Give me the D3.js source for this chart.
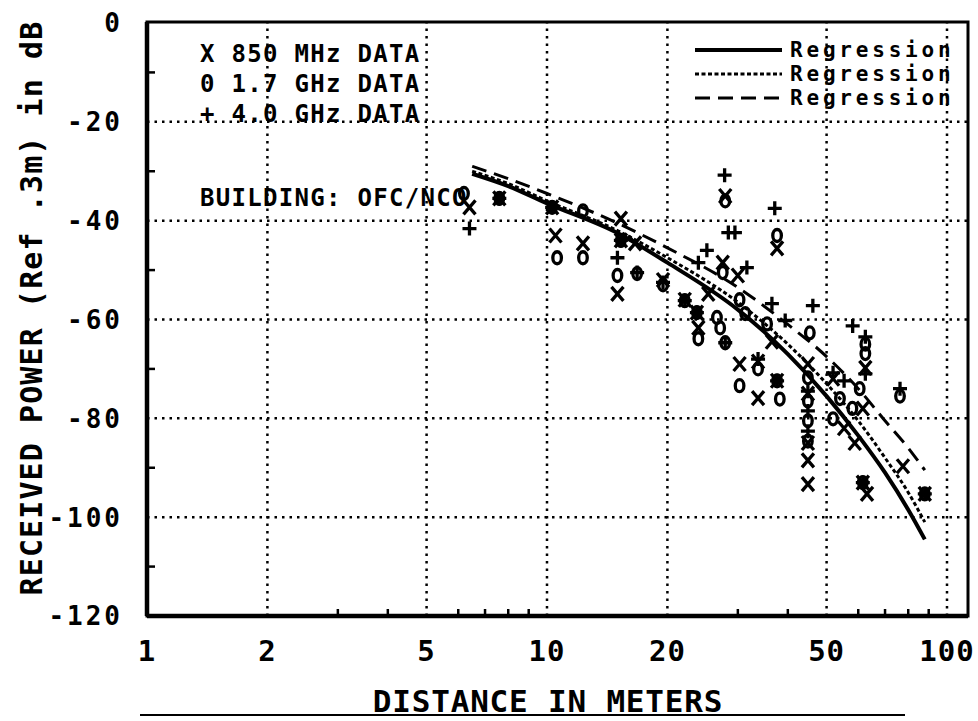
<!DOCTYPE html>
<html>
<head>
<meta charset="utf-8">
<script src="https://cdn.jsdelivr.net/npm/d3@7"></script>
<style>
    body { margin: 0; background: #fff; }
    text { font-family: "DejaVu Sans Mono", monospace; font-weight: bold; fill: #000; }
</style>
</head>
<body>
<svg id="chart"></svg>
<script>
// axis ticks
const xTicks = [1, 2, 5, 10, 20, 50, 100];
const xGrid = [2, 5, 10, 20, 50, 100];
const xMinorTicks = [3, 4, 6, 7, 8, 9, 30, 40, 60, 70, 80, 90];
const yTicks = [0, -20, -40, -60, -80, -100, -120];
const yGrid = [-20, -40, -60, -80, -100];
const yMinorTicks = [-10, -30, -50, -70, -90, -110];

// 850 MHz data (X)
const dist850 = [6.4, 7.6, 10.3, 10.5, 12.3, 15.3, 15.3, 15.0, 16.6, 19.5, 22.1, 23.7, 23.9, 25.3, 27.9, 27.5, 30.0,
    30.3, 33.7, 33.7, 36.5, 37.6, 37.6, 44.9, 44.9, 44.9, 44.9, 44.9, 51.9, 55.3, 58.8, 61.6, 62.5, 61.6, 63.1, 77.6, 88.0];
const pow850 = [-37.3, -35.5, -37.3, -43, -44.6, -39.6, -44, -54.8, -44.6, -52, -56, -58.6, -61.7, -54.8, -35, -48.5, -51.1,
    -69, -68.5, -75.9, -64.5, -45.6, -72.4, -69, -75, -85, -88.5, -93.3, -72, -82, -85, -78, -69.8, -93, -95.3, -89.7, -95.3];

// 1.7 GHz data (O)
const dist17 = [6.2, 7.6, 10.3, 10.6, 12.3, 12.3, 15.0, 15.3, 16.8, 19.5, 22.1, 23.7, 23.9, 27.9, 26.6, 27.1, 27.9, 27.5,
    30.3, 30.3, 31.3, 33.7, 35.5, 37.6, 38.2, 37.6, 45.4, 44.9, 44.9, 44.9, 44.9, 51.9, 54.0, 58.0, 60.5, 62.5, 62.5, 61.6, 76.3, 88.0];
const pow17 = [-34.5, -35.5, -37.3, -47.5, -38, -47.5, -51.1, -44, -50.7, -53, -56.2, -58.6, -63.9, -36, -59.6, -61.7, -64.7, -50.5,
    -73.4, -56, -58.8, -70, -60.9, -43, -76.1, -72.4, -62.7, -71.8, -76.5, -80.5, -84.6, -80.1, -76, -78, -74, -65, -66.9, -93, -75.5, -95.3];

// 4.0 GHz data (+)
const dist40 = [6.4, 7.6, 10.3, 15.0, 15.3, 16.8, 19.5, 22.1, 23.7, 25.1, 23.9, 27.8, 28.4, 29.5, 31.6, 27.9, 36.5, 37.1,
    37.6, 33.7, 39.4, 46.2, 44.9, 44.9, 44.9, 51.9, 55.3, 58.1, 62.5, 62.5, 61.6, 76.3, 88.0];
const pow40 = [-41.6, -35.5, -37.3, -47.5, -44, -50.5, -52.5, -56.2, -58.6, -46, -48.5, -30.8, -42.4, -42.4, -49.5, -64.7, -56.8, -37.5,
    -72.4, -68, -60.2, -57.2, -74.5, -78.5, -82.6, -70.8, -72.4, -61.3, -63.5, -71, -93, -74, -95.3];

// regression curves
const regDist = [6.5, 8, 10, 15, 20, 30, 40, 50, 60, 70, 80, 88];
const regSolid = [-30.5, -33, -36.5, -42.5, -48.5, -58, -67, -75.5, -83.5, -91, -98.5, -104.5];
const regDotted = [-30, -32.5, -36, -42, -47.5, -56.5, -65, -73, -80.5, -88, -95, -101];
const regDashed = [-29, -31.5, -34.5, -40.5, -45.5, -53.5, -61, -67.5, -74, -80.5, -86, -90.5];

// create canvas
const canvWidth = 978;
const canvHeight = 721;
const frameRight = 968;

const svg = d3.select("#chart")
    .attr("width", canvWidth)
    .attr("height", canvHeight);

// scales
const x = d3.scaleLog().domain([1, 100]).range([147, 947]);
const y = d3.scaleLinear().domain([0, -120]).range([23, 616]);

// dotted grid
svg.selectAll(".vgrid")
    .data(xGrid)
    .enter().append("line")
    .attr("x1", d => x(d)).attr("x2", d => x(d))
    .attr("y1", y(-120)).attr("y2", y(0))
    .attr("stroke", "#000").attr("stroke-width", 2.5)
    .attr("stroke-dasharray", "2.5,5");

svg.selectAll(".hgrid")
    .data(yGrid)
    .enter().append("line")
    .attr("x1", x(1)).attr("x2", frameRight)
    .attr("y1", d => y(d)).attr("y2", d => y(d))
    .attr("stroke", "#000").attr("stroke-width", 2.5)
    .attr("stroke-dasharray", "2.5,5");

// minor ticks
svg.selectAll(".xminor")
    .data(xMinorTicks)
    .enter().append("line")
    .attr("x1", d => x(d)).attr("x2", d => x(d))
    .attr("y1", y(-120)).attr("y2", y(-120) - 7)
    .attr("stroke", "#000").attr("stroke-width", 2.5);

svg.selectAll(".yminor")
    .data(yMinorTicks)
    .enter().append("line")
    .attr("x1", x(1)).attr("x2", x(1) + 8)
    .attr("y1", d => y(d)).attr("y2", d => y(d))
    .attr("stroke", "#000").attr("stroke-width", 2.5);

// frame
svg.append("rect")
    .attr("x", x(1)).attr("y", y(0) - 1)
    .attr("width", frameRight - x(1)).attr("height", y(-120) - y(0) + 1)
    .attr("fill", "none").attr("stroke", "#000").attr("stroke-width", 3);
svg.append("line")
    .attr("x1", x(1)).attr("x2", x(1)).attr("y1", y(0) - 1).attr("y2", y(-120))
    .attr("stroke", "#000").attr("stroke-width", 4.5);
svg.append("line")
    .attr("x1", x(1)).attr("x2", frameRight).attr("y1", y(-120)).attr("y2", y(-120))
    .attr("stroke", "#000").attr("stroke-width", 4.5);

// tick labels
svg.selectAll(".ylab")
    .data(yTicks)
    .enter().append("text")
    .attr("x", 123).attr("y", d => y(d))
    .attr("dy", "0.36em")
    .attr("text-anchor", "end")
    .style("font-size", "26px").style("letter-spacing", "3px")
    .text(d => d);

svg.selectAll(".xlab")
    .data(xTicks)
    .enter().append("text")
    .attr("x", d => x(d)).attr("y", 661)
    .attr("text-anchor", "middle")
    .style("font-size", "29px").style("letter-spacing", "1px")
    .text(d => d);

// axis titles
svg.append("text")
    .attr("transform", "translate(42,308) rotate(-90)")
    .attr("text-anchor", "middle")
    .style("font-size", "30px").style("letter-spacing", "1.1px")
    .text("RECEIVED POWER (Ref .3m) in dB");

svg.append("text")
    .attr("x", 548).attr("y", 712)
    .attr("text-anchor", "middle")
    .style("font-size", "31px").style("letter-spacing", "0.8px")
    .text("DISTANCE IN METERS");
svg.append("line")
    .attr("x1", 140).attr("x2", 905).attr("y1", 715).attr("y2", 715)
    .attr("stroke", "#000").attr("stroke-width", 2);

// legend for data sets
const legendText = ["X 850 MHz DATA", "0 1.7 GHz DATA", "+ 4.0 GHz DATA"];
svg.selectAll(".leg")
    .data(legendText)
    .enter().append("text")
    .attr("x", 200).attr("y", (d, i) => 62 + i * 30)
    .style("font-size", "24px").style("letter-spacing", "1.3px")
    .text(d => d);

svg.append("text")
    .attr("x", 200).attr("y", 206)
    .style("font-size", "24px").style("letter-spacing", "1.3px")
    .text("BUILDING: OFC/NCO");

// regression curves
const line = d3.line()
    .x(d => x(d[0]))
    .y(d => y(d[1]))
    .curve(d3.curveMonotoneX);

const regs = [
    { values: regSolid, dash: null, width: 4 },
    { values: regDotted, dash: "4,2.5", width: 3 },
    { values: regDashed, dash: "15,8", width: 3 }
];

svg.selectAll(".reg")
    .data(regs)
    .enter().append("path")
    .attr("d", d => line(d3.zip(regDist, d.values)))
    .attr("fill", "none")
    .attr("stroke", "#000")
    .attr("stroke-width", d => d.width)
    .attr("stroke-dasharray", d => d.dash);

// legend for regression curves
regs.forEach(function (r, i) {
    const cy = 50 + i * 24;
    svg.append("line")
        .attr("x1", 695).attr("x2", 782).attr("y1", cy).attr("y2", cy)
        .attr("stroke", "#000").attr("stroke-width", r.width)
        .attr("stroke-dasharray", r.dash);
    svg.append("text")
        .attr("x", 790).attr("y", cy + 7)
        .style("font-size", "21px").style("letter-spacing", "3.8px")
        .text("Regression");
});

// data markers
const markerX = "M-6,-7L6,7M-6,7L6,-7";
const markerPlus = "M-7,0H7M0,-7V7";

svg.append("g").selectAll("path")
    .data(d3.zip(dist850, pow850))
    .enter().append("path")
    .attr("d", markerX)
    .attr("transform", d => "translate(" + x(d[0]) + "," + y(d[1]) + ")")
    .attr("fill", "none").attr("stroke", "#000").attr("stroke-width", 3.3);

svg.append("g").selectAll("ellipse")
    .data(d3.zip(dist17, pow17))
    .enter().append("ellipse")
    .attr("cx", d => x(d[0])).attr("cy", d => y(d[1]))
    .attr("rx", 4.3).attr("ry", 6)
    .attr("fill", "none").attr("stroke", "#000").attr("stroke-width", 3.3);

svg.append("g").selectAll("path")
    .data(d3.zip(dist40, pow40))
    .enter().append("path")
    .attr("d", markerPlus)
    .attr("transform", d => "translate(" + x(d[0]) + "," + y(d[1]) + ")")
    .attr("fill", "none").attr("stroke", "#000").attr("stroke-width", 3.3);
</script>
</body>
</html>
